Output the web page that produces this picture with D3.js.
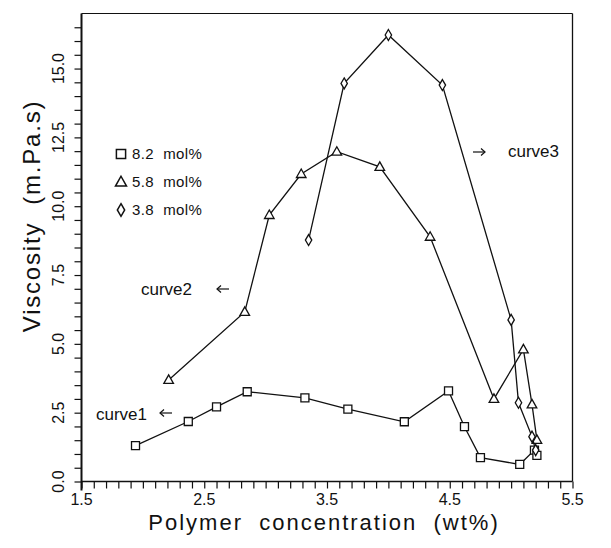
<!DOCTYPE html>
<html>
<head>
<meta charset="utf-8">
<script src="https://cdn.jsdelivr.net/npm/d3@7"></script>
<style>
  html, body { margin: 0; padding: 0; background: #fff; }
  svg { display: block; font-family: "Liberation Sans", Arial, sans-serif; }
</style>
</head>
<body>
<svg id="chart" width="611" height="548"></svg>
<script>
// ---- data ----
const series1X = [1.94, 2.37, 2.60, 2.85, 3.32, 3.67, 4.13, 4.49, 4.62, 4.75, 5.07, 5.19, 5.21];
const series1Y = [1.30, 2.18, 2.71, 3.26, 3.04, 2.63, 2.17, 3.29, 1.99, 0.87, 0.62, 1.14, 0.95];
const series2X = [2.21, 2.83, 3.03, 3.29, 3.58, 3.93, 4.34, 4.86, 5.10, 5.17, 5.21];
const series2Y = [3.69, 6.16, 9.68, 11.17, 11.98, 11.43, 8.89, 3.00, 4.80, 2.80, 1.51];
const series3X = [3.35, 3.64, 4.00, 4.44, 5.00, 5.06, 5.17, 5.20];
const series3Y = [8.77, 14.46, 16.22, 14.40, 5.87, 2.86, 1.63, 1.14];
const seriesNames = ["8.2  mol%", "5.8  mol%", "3.8  mol%"];
const seriesShapes = ["square", "triangle", "diamond"];
const xTickLabels = ["1.5", "2.5", "3.5", "4.5", "5.5"];
const yTickLabels = ["0.0", "2.5", "5.0", "7.5", "10.0", "12.5", "15.0"];
const curveLabels = ["curve1", "curve2", "curve3"];

// ---- layout ----
const svg = d3.select("#chart");
const x = d3.scaleLinear().domain([1.5, 5.5]).range([81.5, 572.5]);
const y = d3.scaleLinear().domain([0, 17]).range([481.5, 13.5]);

const ink = "#111";

// frame (top & right)
svg.append("line").attr("x1", x(1.5)).attr("x2", x(5.5)).attr("y1", y(17)).attr("y2", y(17))
  .attr("stroke", ink).attr("stroke-width", 1);
svg.append("line").attr("x1", x(5.5)).attr("x2", x(5.5)).attr("y1", y(17)).attr("y2", y(0))
  .attr("stroke", ink).attr("stroke-width", 1.3);

// x axis
const xMinor = d3.range(15, 56).map(v => v / 10);
const xAxis = d3.axisBottom(x).tickValues(xMinor).tickSize(7).tickFormat("");
const gx = svg.append("g").attr("transform", `translate(0,${y(0)})`).call(xAxis);
gx.select(".domain").attr("stroke", ink).attr("stroke-width", 1.6).attr("d", `M${x(1.5)},0H${x(5.5)}`);
gx.selectAll(".tick line").attr("stroke", ink).attr("stroke-width", 1.2);
svg.append("g").selectAll("text").data(xTickLabels).join("text")
  .attr("x", d => x(+d)).attr("y", 505)
  .attr("text-anchor", "middle")
  .attr("font-size", 16).attr("fill", ink)
  .text(d => d);

// y axis
const yMinor = d3.range(0, 34).map(v => v / 2);
const yAxis = d3.axisLeft(y).tickValues(yMinor).tickSize(7).tickFormat("");
const gy = svg.append("g").attr("transform", `translate(${x(1.5)},0)`).call(yAxis);
gy.select(".domain").attr("stroke", ink).attr("stroke-width", 2).attr("d", `M0,${y(0) + 9}V${y(17)}`);
gy.selectAll(".tick line").attr("stroke", ink).attr("stroke-width", 1.2);
svg.append("g").selectAll("text").data(yTickLabels).join("text")
  .attr("transform", d => `translate(64,${y(+d)}) rotate(-90)`)
  .attr("text-anchor", "middle").attr("font-size", 16).attr("fill", ink)
  .text(d => d);

// axis titles
svg.append("text").attr("x", 324).attr("y", 530)
  .attr("text-anchor", "middle").attr("font-size", 22).attr("fill", ink)
  .attr("letter-spacing", 2).style("white-space", "pre")
  .text("Polymer  concentration  (wt%)");
svg.append("text").attr("transform", `translate(40,216) rotate(-90)`)
  .attr("text-anchor", "middle").attr("font-size", 24).attr("fill", ink)
  .attr("letter-spacing", 1.8).style("white-space", "pre")
  .text("Viscosity  (m.Pa.s)");

// markers
function shapePath(kind) {
  if (kind === "square") return "M-4,-4H4V4H-4Z";
  if (kind === "triangle") return "M0,-5L4.8,3.5H-4.8Z";
  return "M0,-5.5L3.2,0L0,5.5L-3.2,0Z";
}

const line = d3.line().x(d => x(d[0])).y(d => y(d[1]));
const allSeries = [
  series1X.map((v, i) => [v, series1Y[i]]),
  series2X.map((v, i) => [v, series2Y[i]]),
  series3X.map((v, i) => [v, series3Y[i]])
];
allSeries.forEach((pts, k) => {
  svg.append("path").datum(pts).attr("d", line)
    .attr("fill", "none").attr("stroke", ink).attr("stroke-width", 1.3);
  svg.append("g").selectAll("path").data(pts).join("path")
    .attr("transform", d => `translate(${x(d[0])},${y(d[1])})`)
    .attr("d", shapePath(seriesShapes[k]))
    .attr("fill", "#fff").attr("stroke", ink).attr("stroke-width", 1.3);
});

// legend
const legendY = [154, 182, 210];
const lg = svg.append("g");
seriesNames.forEach((name, k) => {
  lg.append("path").attr("transform", `translate(121,${legendY[k]}) scale(1.15)`)
    .attr("d", shapePath(seriesShapes[k]))
    .attr("fill", "none").attr("stroke", ink).attr("stroke-width", 1.3);
  lg.append("text").attr("x", 132).attr("y", legendY[k] + 5)
    .attr("font-size", 15).attr("letter-spacing", 0.4).attr("fill", ink).style("white-space", "pre")
    .text(name);
});

// curve annotations
const annX = [96, 141, 508];
const annY = [420, 295, 157];
svg.append("g").selectAll("text").data(curveLabels).join("text")
  .attr("x", (d, i) => annX[i]).attr("y", (d, i) => annY[i])
  .attr("font-size", 17).attr("fill", ink).text(d => d);
// arrows: [x start, y, direction]
const arrows = [[160, 413, -1], [217, 289, -1], [473, 152, 1]];
const ag = svg.append("g").attr("stroke", ink).attr("stroke-width", 1.2).attr("fill", "none");
arrows.forEach(([ax, ay, dir]) => {
  const x0 = ax, x1 = ax + 12;
  ag.append("path").attr("d", `M${x0},${ay}H${x1}`);
  const tip = dir < 0 ? x0 : x1;
  ag.append("path").attr("d", `M${tip - dir * 4},${ay - 3.5}L${tip},${ay}L${tip - dir * 4},${ay + 3.5}`);
});
</script>
</body>
</html>
